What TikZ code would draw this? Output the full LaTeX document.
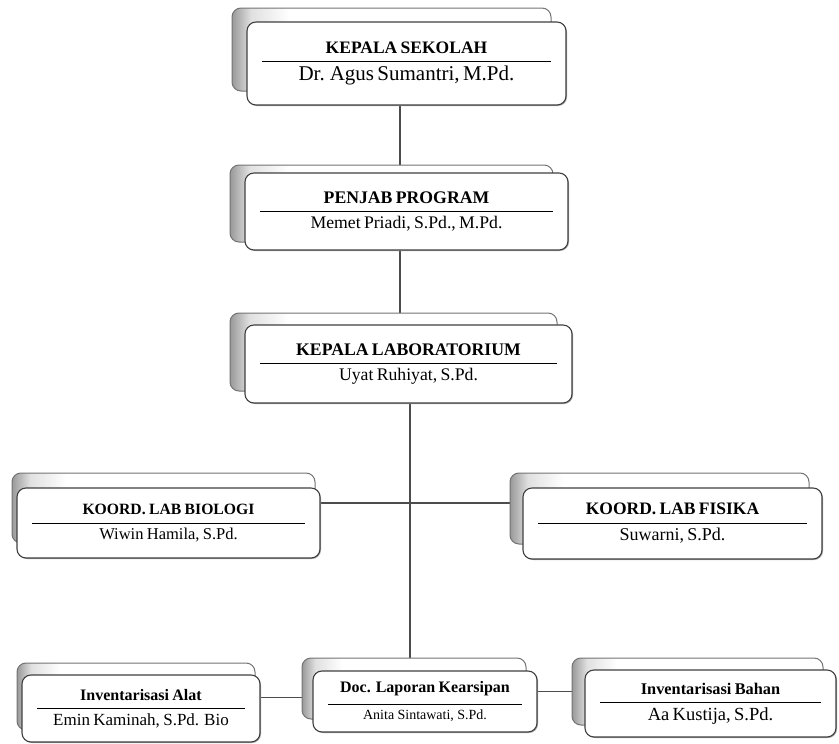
\documentclass[tikz,border=0pt]{standalone}
\usepackage{fontspec}
\setmainfont{Liberation Serif}
\usetikzlibrary{shadows,backgrounds}

\pgfdeclarehorizontalshading{backshade}{100bp}{color(0bp)=(black!40); color(25bp)=(black!40);
  color(28bp)=(black!12); color(34bp)=(white); color(100bp)=(white)}

\newcommand{\jabatan}[4]{%
  {\fontsize{#1}{#1}\selectfont\bfseries #3\par}\kern8pt
  \hrule height 1.1pt\kern4pt
  {\fontsize{#2}{#2}\selectfont #4\par}}

\begin{document}
\begin{tikzpicture}[x=1pt, y=-1pt,
  unit/.style={draw=black!75, line width=1.1pt, fill=white, rounded corners=9pt,
               align=center, inner xsep=15pt, inner ysep=0pt,
               drop shadow={shadow xshift=1pt, shadow yshift=-1pt, fill=black!35, opacity=1}},
  back/.style 2 args={copy shadow={shadow xshift=#1, shadow yshift=#2,
               draw=black!55, line width=1pt, shading=backshade}},
  link/.style={draw=black!70, line width=1.3pt},
]
\useasboundingbox (0,0) rectangle (839,744);

% Pimpinan
\node[unit, back={-15pt}{14pt}, text width=289pt, minimum height=83pt] (ks) at (406.5,63.5)
  {\jabatan{17.5}{21}{KEPALA SEKOLAH}{Dr. Agus Sumantri, M.Pd.}};
\node[unit, back={-15pt}{8pt}, text width=293pt, minimum height=77pt] (pp) at (406.5,211.5)
  {\jabatan{17.7}{17.7}{PENJAB PROGRAM}{Memet Priadi, S.Pd., M.Pd.}};
\node[unit, back={-15pt}{12pt}, text width=297pt, minimum height=78pt] (kl) at (408.5,364)
  {\jabatan{17.7}{17.7}{KEPALA LABORATORIUM}{Uyat Ruhiyat, S.Pd.}};

% Koordinator
\node[unit, back={-5pt}{15pt}, text width=273pt, minimum height=70pt] (bio) at (168.5,523)
  {\jabatan{15.7}{16.5}{KOORD. LAB BIOLOGI}{Wiwin Hamila, S.Pd.}};
\node[unit, back={-13pt}{15pt}, text width=269pt, minimum height=71pt] (fis) at (672.5,523.5)
  {\jabatan{17.5}{18}{KOORD. LAB FISIKA}{Suwarni, S.Pd.}};

% Pelaksana
\node[unit, back={-5pt}{12pt}, text width=208pt, minimum height=67pt] (alat) at (141,708.5)
  {\jabatan{16}{17}{Inventarisasi Alat}{Emin Kaminah, S.Pd. Bio}};
\node[unit, back={-11pt}{13pt}, text width=194pt, minimum height=61pt] (doc) at (425,701.5)
  {\jabatan{16}{14}{Doc. Laporan Kearsipan}{Anita Sintawati, S.Pd.}};
\node[unit, back={-13pt}{12pt}, text width=221pt, minimum height=67pt] (bahan) at (710.5,703.5)
  {\jabatan{16.3}{18.5}{Inventarisasi Bahan}{Aa Kustija, S.Pd.}};

% Garis komando
\begin{scope}[on background layer]
\draw[link] ([xshift=-6.5pt]ks.south) -- ([xshift=-6.5pt]pp.center);
\draw[link] ([xshift=-6.5pt]pp.south) -- ([xshift=-8.5pt]kl.center);
\draw[link] ([xshift=1.5pt]kl.south) -- ([xshift=-15pt]doc.center);
\draw[link] ([yshift=20pt]bio.east) -- ([yshift=20pt]bio.east -| fis.center);
\draw[link] ([yshift=11pt]alat.east) -- ([yshift=11pt]alat.east -| doc.center);
\draw[link] ([yshift=10pt]doc.east) -- ([yshift=10pt]doc.east -| bahan.center);
\end{scope}

\end{tikzpicture}
\end{document}
